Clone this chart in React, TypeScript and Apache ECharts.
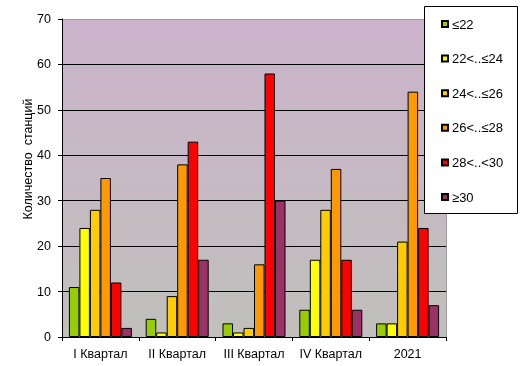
import React, { useEffect, useRef } from "react";
import * as echarts from "echarts";

const categories = ["I Квартал", "II Квартал", "III Квартал", "IV Квартал", "2021"];
const seriesNames = ["≤22", "22<..≤24", "24<..≤26", "26<..≤28", "28<..<30", "≥30"];
const seriesColors = ["#99cc00", "#ffff00", "#ffcc00", "#ff9900", "#ff0000", "#993366"];
const le22 = [11, 4, 3, 6, 3];
const r22_24 = [24, 1, 1, 17, 3];
const r24_26 = [28, 9, 2, 28, 21];
const r26_28 = [35, 38, 16, 37, 54];
const r28_30 = [12, 43, 58, 17, 24];
const ge30 = [2, 17, 30, 6, 7];
const seriesValues = [le22, r22_24, r24_26, r26_28, r28_30, ge30];
const yTicks = { min: 0, max: 70, interval: 10 };
const gridValues = [10, 20, 30, 40, 50, 60];
const yName = "Количество  станций";

const FONT = "Arial, 'Liberation Sans', sans-serif";
const GRID = { left: 62, top: 19, width: 384, height: 318 };

export default function App() {
  const ref = useRef<HTMLDivElement>(null);
  useEffect(() => {
    if (!ref.current) return;
    const chart = echarts.init(ref.current, undefined, { renderer: "svg" });
    chart.setOption({
      animation: false,
      textStyle: { fontFamily: FONT },
      grid: {
        left: GRID.left,
        top: GRID.top,
        width: GRID.width,
        height: GRID.height,
        show: false,
      },
      graphic: [
        {
          type: "rect",
          z: -10,
          silent: true,
          shape: { x: GRID.left + 0.5, y: GRID.top + 0.5, width: GRID.width, height: GRID.height },
          style: {
            fill: {
              type: "linear",
              x: 0,
              y: 0,
              x2: 0,
              y2: 1,
              colorStops: [
                { offset: 0, color: "#cbb3cb" },
                { offset: 1, color: "#c0c0bc" },
              ],
            },
            stroke: "#9a9a9a",
            lineWidth: 1,
          },
        },
        {
          type: "rect",
          z: 10,
          shape: { x: 424.5, y: 6.5, width: 93, height: 207 },
          style: { fill: "#ffffff", stroke: "#000000", lineWidth: 1 },
        },
        {
          type: "text",
          z: 10,
          x: 28,
          y: 159,
          rotation: Math.PI / 2,
          style: {
            text: yName,
            fill: "#000",
            font: "12.5px " + FONT,
            align: "center",
            verticalAlign: "middle",
          },
        },
      ],
      legend: {
        z: 11,
        orient: "vertical",
        left: 441,
        top: 17,
        padding: 0,
        itemWidth: 6,
        itemHeight: 6,
        itemGap: 20.6,
        icon: "rect",
        textStyle: { fontFamily: FONT, fontSize: 13, color: "#000", lineHeight: 14, padding: [0, 0, 0, -1] },
        data: seriesNames,
      },
      xAxis: {
        type: "category",
        data: categories,
        axisLine: { lineStyle: { color: "#000", width: 1 } },
        axisTick: { show: true, length: 4, alignWithLabel: false, interval: 0, lineStyle: { color: "#000" } },
        axisLabel: { color: "#000", fontSize: 12.5, fontFamily: FONT, margin: 10, interval: 0 },
        splitLine: { show: false },
      },
      yAxis: {
        type: "value",
        min: yTicks.min,
        max: yTicks.max,
        interval: yTicks.interval,
        axisLine: { show: true, lineStyle: { color: "#000", width: 1 } },
        axisTick: { show: true, length: 4, lineStyle: { color: "#000" } },
        axisLabel: { color: "#000", fontSize: 12.5, fontFamily: FONT, margin: 11 },
        splitLine: { show: false },
      },
      series: [
        {
          name: "grid",
          type: "line",
          z: 1,
          data: [],
          silent: true,
          markLine: {
            z: 1,
            silent: true,
            symbol: "none",
            label: { show: false },
            lineStyle: { color: "#000", width: 1, type: "solid" },
            emphasis: { disabled: true },
            data: gridValues.map((v) => ({ yAxis: v })),
          },
        },
        ...seriesNames.map((name, i) => ({
          name,
          type: "bar",
          z: 3,
          data: seriesValues[i],
          barGap: "0%",
          barCategoryGap: "18%",
          itemStyle: { color: seriesColors[i], borderColor: "#000", borderWidth: 1 },
          emphasis: { disabled: true },
        })),
      ],
    });
    return () => chart.dispose();
  }, []);
  return <div ref={ref} style={{ position: "fixed", left: 0, top: 0, width: 520, height: 366 }} />;
}
